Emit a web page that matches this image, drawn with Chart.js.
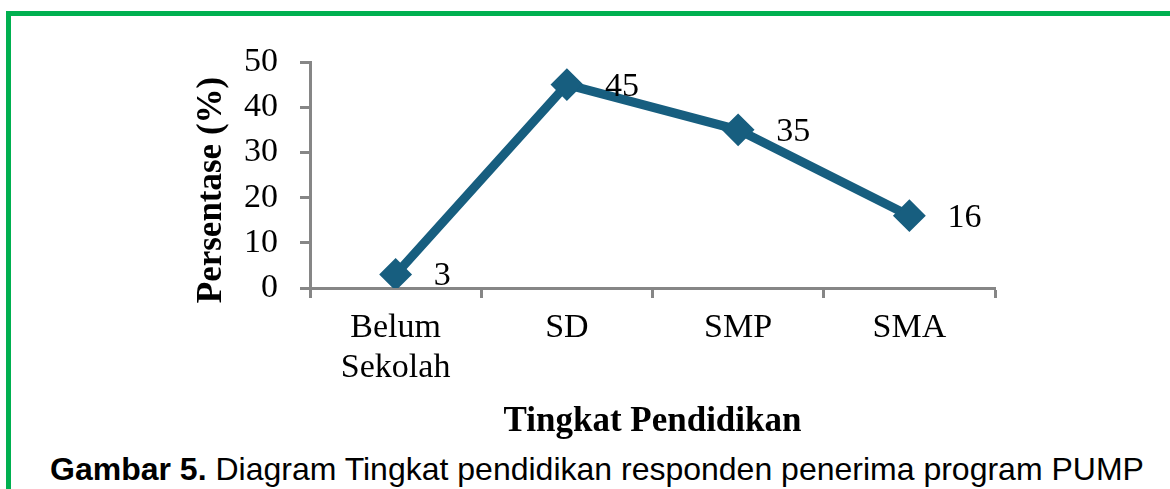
<!DOCTYPE html>
<html>
<head>
<meta charset="utf-8">
<script src="https://cdn.jsdelivr.net/npm/chart.js@4"></script>
<style>
    body {
        margin: 0;
        background: #ffffff;
    }
    .frame {
        position: relative;
        width: 1170px;
        height: 489px;
        overflow: hidden;
        background: #ffffff;
    }
    .border-top {
        position: absolute;
        left: 6px;
        top: 11px;
        width: 1164px;
        height: 5px;
        background: #00b050;
    }
    .border-left {
        position: absolute;
        left: 6px;
        top: 11px;
        width: 5px;
        height: 478px;
        background: #00b050;
    }
    #chartCanvas {
        position: absolute;
        left: 0;
        top: 0;
    }
    .caption {
        position: absolute;
        left: 50px;
        top: 453px;
        font-family: "Liberation Sans", Arial, sans-serif;
        font-size: 32px;
        line-height: 32px;
        color: #000000;
        white-space: nowrap;
    }
</style>
</head>
<body>
<div class="frame">
    <div class="border-top"></div>
    <div class="border-left"></div>
    <canvas id="chartCanvas" width="1170" height="445"></canvas>
    <div class="caption"><b>Gambar 5.</b> Diagram Tingkat pendidikan responden penerima program PUMP</div>
</div>
<script>
const categories = [["Belum", "Sekolah"], "SD", "SMP", "SMA"];
const percentages = [3, 45, 35, 16];
const yTicks = [0, 10, 20, 30, 40, 50];

const LINE_COLOR = "#175e7f";
const AXIS_COLOR = "#868686";
const SERIF = "'Liberation Serif', 'Times New Roman', serif";

// value labels to the right of each marker
const pointLabels = {
    id: "pointLabels",
    afterDatasetsDraw(chart) {
        const ctx = chart.ctx;
        const meta = chart.getDatasetMeta(0);
        ctx.save();
        ctx.font = "34px " + SERIF;
        ctx.fillStyle = "#000000";
        ctx.textAlign = "left";
        ctx.textBaseline = "middle";
        meta.data.forEach((point, i) => {
            ctx.fillText(String(percentages[i]), point.x + 38, point.y + 2);
        });
        ctx.restore();
    }
};

// rotated y axis title, centred a bit lower than the axis itself
const yTitle = {
    id: "yTitle",
    afterDraw(chart) {
        const ctx = chart.ctx;
        ctx.save();
        ctx.translate(212, 190);
        ctx.rotate(-Math.PI / 2);
        ctx.font = "bold 35px " + SERIF;
        ctx.fillStyle = "#000000";
        ctx.textAlign = "center";
        ctx.textBaseline = "middle";
        ctx.fillText("Persentase (%)", 0, 0);
        ctx.restore();
    }
};

const educationChart = new Chart(
    document.getElementById("chartCanvas"),
    {
        type: "line",
        data: {
            labels: categories,
            datasets: [{
                data: percentages,
                borderColor: LINE_COLOR,
                backgroundColor: LINE_COLOR,
                borderWidth: 9,
                tension: 0,
                pointStyle: "rectRot",
                pointRadius: 15,
                pointBackgroundColor: LINE_COLOR,
                pointBorderColor: LINE_COLOR,
                pointBorderWidth: 2
            }]
        },
        options: {
            responsive: false,
            animation: false,
            layout: {
                padding: { left: 0, right: 175, top: 62, bottom: 0 }
            },
            plugins: {
                legend: { display: false },
                tooltip: { enabled: false }
            },
            scales: {
                x: {
                    offset: true,
                    grid: {
                        display: true,
                        offset: true,
                        drawOnChartArea: false,
                        drawTicks: true,
                        tickLength: 10,
                        tickWidth: 3,
                        tickColor: AXIS_COLOR
                    },
                    border: { display: true, color: AXIS_COLOR, width: 3 },
                    ticks: {
                        color: "#000000",
                        padding: 11,
                        maxRotation: 0,
                        autoSkip: false,
                        font: { family: SERIF, size: 34, lineHeight: 1.15 }
                    },
                    title: {
                        display: true,
                        text: "Tingkat Pendidikan",
                        color: "#000000",
                        padding: { top: 0, bottom: 2 },
                        font: { family: SERIF, size: 35, weight: "bold", lineHeight: 1.2 }
                    },
                    afterFit(scale) {
                        scale.height = 157;
                        scale.paddingLeft = 0;
                        scale.paddingRight = 0;
                    }
                },
                y: {
                    min: 0,
                    max: 50,
                    afterBuildTicks(scale) {
                        scale.ticks = yTicks.map((v) => ({ value: v }));
                    },
                    grid: {
                        display: true,
                        drawOnChartArea: false,
                        drawTicks: true,
                        tickLength: 10,
                        tickWidth: 3,
                        tickColor: AXIS_COLOR
                    },
                    border: { display: true, color: AXIS_COLOR, width: 3 },
                    ticks: {
                        color: "#000000",
                        padding: 22,
                        font: { family: SERIF, size: 34 }
                    },
                    afterFit(scale) {
                        scale.width = 310;
                        scale.paddingTop = 0;
                        scale.paddingBottom = 0;
                    }
                }
            }
        },
        plugins: [pointLabels, yTitle]
    }
);
</script>
</body>
</html>
